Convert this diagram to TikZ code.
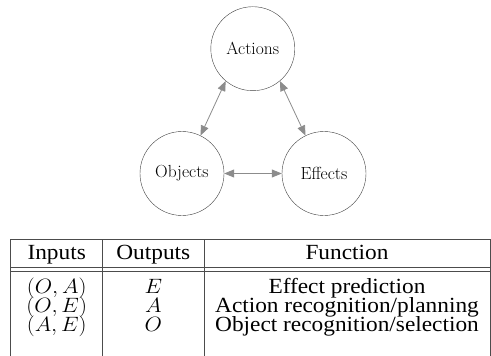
\documentclass[tikz,border=0pt]{standalone}
\usepackage{amsmath}
\usepackage{fontspec}
\setmainfont{Liberation Serif}
\newfontfamily\lmfont{Latin Modern Roman}
\usetikzlibrary{arrows.meta,automata,positioning}

\begin{document}
\begin{tikzpicture}[x=1pt,y=-1pt,>={Triangle[length=10pt,width=8pt]},
                    node distance=1cm,on grid,
                    every state/.style={draw=black!75,thin,minimum size=84pt,
                      inner sep=0pt,font=\lmfont\fontsize{17.5}{20}\selectfont},
                    link/.style={<->,draw=black!45,line width=0.8pt},
                    rule/.style={draw=black!70,line width=0.8pt},
                    cell/.style={anchor=base,inner sep=0pt,xscale=1.08,
                      font=\rmfamily\fontsize{21.6}{24}\selectfont}]

  \useasboundingbox (0,0) rectangle (491,356);

  \node[state]         (act) at (252.8,48.7)                     {Actions};
  \node[state]         (obj) [below left=124.8pt and 70.8pt of act]  {Objects};
  \node[state]         (eff) [below right=124.8pt and 71.2pt of act] {Effects};

  \path (act.230) edge[link] (obj.64)
        (act.310) edge[link] (eff.116)
        (obj)     edge[link] (eff);

  % table
  \draw[rule] (10.7,239.3) -- (490.5,239.3);
  \draw[rule] (10.7,267.3) -- (490.5,267.3);
  \draw[rule] (10.7,271.7) -- (490.5,271.7);
  \foreach \x in {10.7,102.7,204,490.5}
    \draw[rule] (\x,239.3) -- (\x,356);

  \node[cell] (hin)  at (56.7,259.3)  {Inputs};
  \node[cell] (hout) at (153.3,259.3) {Outputs};
  \node[cell] (hfn)  at (347,259.3)   {Function};

  \node[cell] (in1)  at (56.7,293.3)  {$(O,A)$};
  \node[cell] (out1) at (153.3,293.3) {$E$};
  \node[cell] (fn1)  at (347,293.3)   {Effect prediction};

  \node[cell] (in2)  at (56.7,312.7)  {$(O,E)$};
  \node[cell] (out2) at (153.3,312.7) {$A$};
  \node[cell] (fn2)  at (347,312.7)   {Action recognition/planning};

  \node[cell] (in3)  at (56.7,331.7)  {$(A,E)$};
  \node[cell] (out3) at (153.3,331.7) {$O$};
  \node[cell] (fn3)  at (347,331.7)   {Object recognition/selection};
\end{tikzpicture}
\end{document}
